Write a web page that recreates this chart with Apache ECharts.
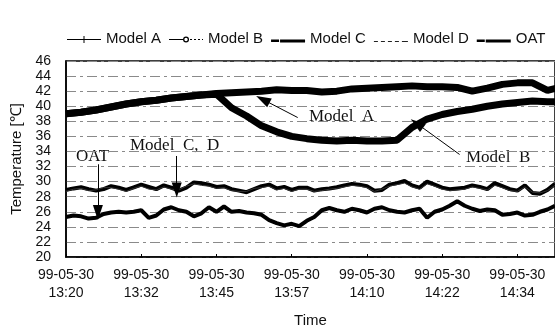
<!DOCTYPE html>
<html>
<head>
<meta charset="utf-8">
<script src="https://cdn.jsdelivr.net/npm/echarts@6/dist/echarts.min.js"></script>
<style>
  html, body { margin: 0; padding: 0; background: #fff; }
  #chart { width: 555px; height: 333px; }
</style>
</head>
<body>
<div id="chart"></div>
<script>
// minutes after 13:20, sampled every 1.25 min (noisy traces) and 2.5 min (smooth traces)
const fineStep = 1.25;
const coarseStep = 2.5;

const modelA = [39.0, 39.2, 39.5, 39.9, 40.3, 40.6, 40.8, 41.1, 41.3, 41.5, 41.7, 41.8,
  41.9, 42.0, 42.2, 42.1, 42.1, 41.9, 42.0, 42.3, 42.4, 42.5, 42.6, 42.7, 42.6, 42.6,
  42.5, 42.0, 42.4, 42.9, 43.1, 43.1, 42.1, 42.6];

const modelB = [39.0, 39.2, 39.5, 39.9, 40.3, 40.6, 40.8, 41.1, 41.3, 41.5, 41.6, 39.8,
  38.7, 37.4, 36.6, 36.0, 35.7, 35.5, 35.4, 35.5, 35.4, 35.4, 35.5, 37.2, 38.3, 38.9,
  39.3, 39.6, 40.0, 40.3, 40.5, 40.7, 40.6, 40.6];

const modelC = [28.9, 29.1, 29.25, 29.0, 28.8, 29.0, 29.4, 29.2, 28.9, 29.25, 29.6, 29.3,
  29.0, 29.5, 29.2, 28.8, 29.2, 29.9, 29.8, 29.6, 29.3, 29.4, 29.0, 28.8, 28.6, 29.0,
  29.4, 29.6, 29.1, 29.3, 28.9, 29.2, 29.2, 28.8, 29.0, 29.1, 29.25, 29.5, 29.7, 29.6,
  29.4, 28.8, 28.9, 29.6, 29.8, 30.1, 29.5, 29.2, 30.0, 29.6, 29.2, 29.0, 29.1, 29.2,
  29.5, 29.3, 29.0, 29.8, 29.4, 29.0, 28.8, 29.5, 28.5, 28.4, 28.9, 29.7];

const modelD = [28.7, 29.0, 29.1, 28.8, 28.9, 29.2, 29.2, 29.0, 28.7, 29.1, 29.4, 29.0,
  28.9, 29.3, 29.0, 28.9, 29.4, 29.7, 29.5, 29.4, 29.1, 29.2, 28.8, 28.7, 28.7, 29.1,
  29.2, 29.4, 28.9, 29.1, 28.7, 29.0, 29.0, 28.7, 28.8, 29.0, 29.1, 29.3, 29.5, 29.4,
  29.2, 28.7, 29.0, 29.4, 29.6, 29.8, 29.3, 29.0, 29.7, 29.4, 29.0, 28.8, 28.9, 29.0,
  29.3, 29.1, 28.9, 29.5, 29.2, 28.8, 28.7, 29.3, 28.6, 28.5, 28.8, 29.5];

const oat = [25.3, 25.5, 25.4, 25.1, 25.2, 25.7, 25.9, 26.0, 25.9, 26.0, 26.2, 25.2,
  25.5, 26.3, 26.6, 26.2, 26.0, 25.4, 25.8, 26.6, 26.0, 26.7, 26.0, 26.1, 25.9, 25.8,
  25.6, 24.9, 24.5, 24.2, 24.4, 24.1, 24.8, 25.3, 26.2, 26.5, 26.2, 26.0, 26.4, 26.2,
  25.9, 26.4, 26.6, 26.2, 26.0, 25.9, 26.2, 26.4, 25.2, 26.0, 26.3, 26.8, 27.4, 26.8,
  26.4, 26.1, 26.3, 26.2, 25.6, 25.7, 25.9, 25.5, 25.6, 26.0, 26.3, 26.8];

const dateLabel = '99-05-30';
const timeLabels = ['13:20', '13:32', '13:45', '13:57', '14:10', '14:22', '14:34'];
const tickStep = 12.5;

// annotation arrows: [fromX, fromY, toX, toY] in data units
const arrows = [
  [38.5, 38.5, 32.7, 40.9],
  [65.4, 33.6, 58.3, 37.7],
  [5.3, 32.3, 5.3, 25.9],
  [18.4, 33.4, 18.4, 28.9]
];

const sans = '"Liberation Sans", Arial, sans-serif';
const serif = '"Liberation Serif", "Times New Roman", serif';

// legend glyphs, drawn in a 34 x 12 box
const iconA = 'path://M0,0.1H0.1V0H0Z M0,6.5H34V7.5H0Z M16.5,3.5H17.5V10.5H16.5Z M34,12H33.9V11.9H34Z';
const iconB = 'path://M0,0.1H0.1V0H0Z M0,6.5H14V7.5H0Z M14,7a3,3 0 1,0 6,0a3,3 0 1,0 -6,0Z M15.3,7a1.7,1.7 0 1,1 3.4,0a1.7,1.7 0 1,1 -3.4,0Z M21,6.5H23V7.5H21Z M25,6.5H27V7.5H25Z M29,6.5H31V7.5H29Z M33,6.5H34V7.5H33Z M34,12H33.9V11.9H34Z';
const iconThick = 'path://M0,0.1H0.1V0H0Z M0,7H8V9.5H0Z M9,7H34V10H9Z M34,12H33.9V11.9H34Z';
const iconD = 'path://M0,0.1H0.1V0H0Z M0,8.5H4V9.5H0Z M7,8.5H11V9.5H7Z M14,8.5H18V9.5H14Z M21,8.5H25V9.5H21Z M28,8.5H34V9.5H28Z M34,12H33.9V11.9H34Z';

function pairs(step, vals) {
  return vals.map((v, i) => [i * step, v]);
}

const chart = echarts.init(document.getElementById('chart'));

const lineBase = { type: 'line', showSymbol: false, symbol: 'none', animation: false };

chart.setOption({
  backgroundColor: '#fff',
  animation: false,
  legend: {
    left: 62,
    top: 26,
    itemWidth: 34,
    itemHeight: 12,
    itemGap: 8,
    symbolKeepAspect: true,
    textStyle: { fontFamily: sans, fontSize: 15, color: '#111' },
    data: [
      { name: 'Model A', icon: iconA },
      { name: 'Model B', icon: iconB },
      { name: 'Model C', icon: iconThick },
      { name: 'Model D', icon: iconD },
      { name: 'OAT', icon: iconThick }
    ]
  },
  grid: { left: 66, right: 0, top: 61, bottom: 74, show: true, borderColor: '#000', borderWidth: 1.5 },
  xAxis: {
    type: 'value',
    min: 0,
    max: 81.25,
    interval: tickStep,
    name: 'Time',
    nameLocation: 'middle',
    nameGap: 56,
    nameTextStyle: { fontFamily: sans, fontSize: 15, color: '#111' },
    axisLine: { lineStyle: { color: '#000', width: 1.5 } },
    axisTick: { inside: true, length: 3, lineStyle: { color: '#000' } },
    splitLine: { show: false },
    axisLabel: {
      showMaxLabel: false,
      margin: 9,
      fontFamily: sans,
      fontSize: 14,
      lineHeight: 18,
      color: '#111',
      formatter: v => {
        const k = Math.round(v / tickStep);
        if (Math.abs(v - k * tickStep) > 1e-6 || !timeLabels[k]) return '';
        return dateLabel + '\n' + timeLabels[k];
      }
    }
  },
  yAxis: {
    type: 'value',
    min: 20,
    max: 46,
    interval: 2,
    name: 'Temperature [\u2103]',
    nameLocation: 'middle',
    nameGap: 40,
    nameTextStyle: { fontFamily: sans, fontSize: 15, color: '#111' },
    axisLine: { show: true, lineStyle: { color: '#000', width: 1.5 } },
    axisTick: { show: false },
    axisLabel: { margin: 15, fontFamily: sans, fontSize: 14, color: '#111' },
    splitLine: { lineStyle: { color: '#8a8a8a', width: 1, type: [10, 4, 3, 4] } }
  },
  series: [
    { ...lineBase, name: 'Model A', data: pairs(coarseStep, modelA),
      lineStyle: { color: '#000', width: 7 }, itemStyle: { color: '#000' } },
    { ...lineBase, name: 'Model B', data: pairs(coarseStep, modelB),
      lineStyle: { color: '#000', width: 7 }, itemStyle: { color: '#000' } },
    { ...lineBase, name: 'Model C', data: pairs(fineStep, modelC),
      lineStyle: { color: '#000', width: 4 }, itemStyle: { color: '#000' } },
    { ...lineBase, name: 'Model D', data: pairs(fineStep, modelD),
      lineStyle: { color: '#333', width: 1 }, itemStyle: { color: '#222' } },
    { ...lineBase, name: 'OAT', data: pairs(fineStep, oat),
      lineStyle: { color: '#000', width: 4 }, itemStyle: { color: '#000' },
      markLine: {
        silent: true,
        symbol: ['none', 'triangle'],
        symbolSize: [10, 15],
        label: { show: false },
        lineStyle: { color: '#000', width: 1, type: 'solid' },
        data: arrows.map(a => [{ coord: [a[0], a[1]] }, { coord: [a[2], a[3]] }])
      } }
  ],
  graphic: [
    { type: 'text', left: 309, top: 108, style: { text: 'Model  A', font: '17px ' + serif, fill: '#111' } },
    { type: 'text', left: 466, top: 149, style: { text: 'Model  B', font: '17px ' + serif, fill: '#111' } },
    { type: 'text', left: 76, top: 148, style: { text: 'OAT', font: '17px ' + serif, fill: '#111' } },
    { type: 'text', left: 130, top: 137, style: { text: 'Model  C,  D', font: '17px ' + serif, fill: '#111' } }
  ]
});
</script>
</body>
</html>
